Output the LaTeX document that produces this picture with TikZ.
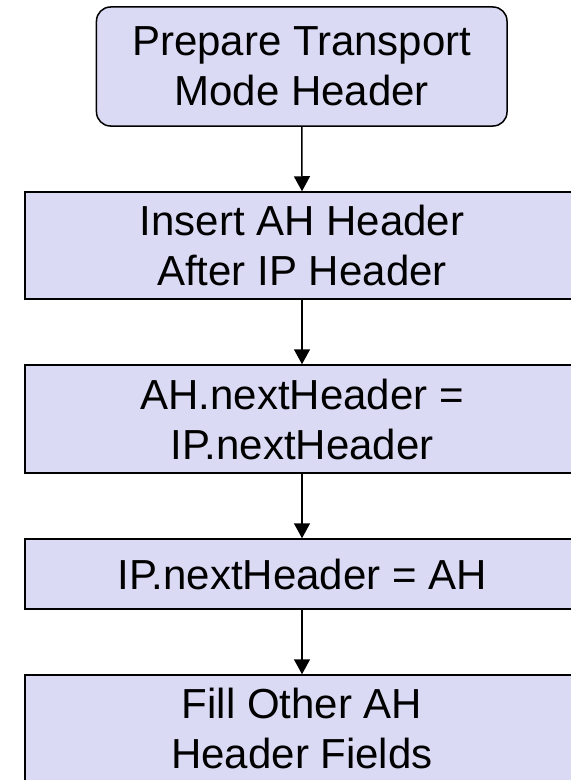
\documentclass[tikz,border=0pt]{standalone}
\usepackage{fontspec}
\setmainfont{Liberation Sans}
\usetikzlibrary{arrows.meta}
\definecolor{boxfill}{RGB}{218,218,244}
\tikzset{
  flowbox/.style={draw=black, line width=1.5bp, fill=boxfill, inner sep=0pt,
    align=center, font=\fontsize{42bp}{50bp}\selectfont, text=black},
  flowarrow/.style={draw=black, line width=1.5bp, -{Triangle[width=16bp,length=15bp]}}
}
\begin{document}
\begin{tikzpicture}[x=1bp,y=-1bp]
\useasboundingbox[fill=white] (0,0) rectangle (571,780);
\node[flowbox, rounded corners=14bp, minimum width=410.5bp, minimum height=119bp] (b1) at (301.75,66.5) {Prepare Transport\\Mode Header};
\node[flowbox, minimum width=554bp, minimum height=107bp] (b2) at (302,245.5) {Insert AH Header\\After IP Header};
\node[flowbox, minimum width=554bp, minimum height=108bp] (b3) at (302,419) {AH.nextHeader =\\IP.nextHeader};
\node[flowbox, minimum width=554bp, minimum height=70bp] (b4) at (302,574) {IP.nextHeader = AH};
\node[flowbox, minimum width=554bp, minimum height=107bp] (b5) at (302,728.5) {Fill Other AH\\Header Fields};
\draw[flowarrow] (b1.south) -- (b2.north);
\draw[flowarrow] (b2.south) -- (b3.north);
\draw[flowarrow] (b3.south) -- (b4.north);
\draw[flowarrow] (b4.south) -- (b5.north);
\end{tikzpicture}
\end{document}
